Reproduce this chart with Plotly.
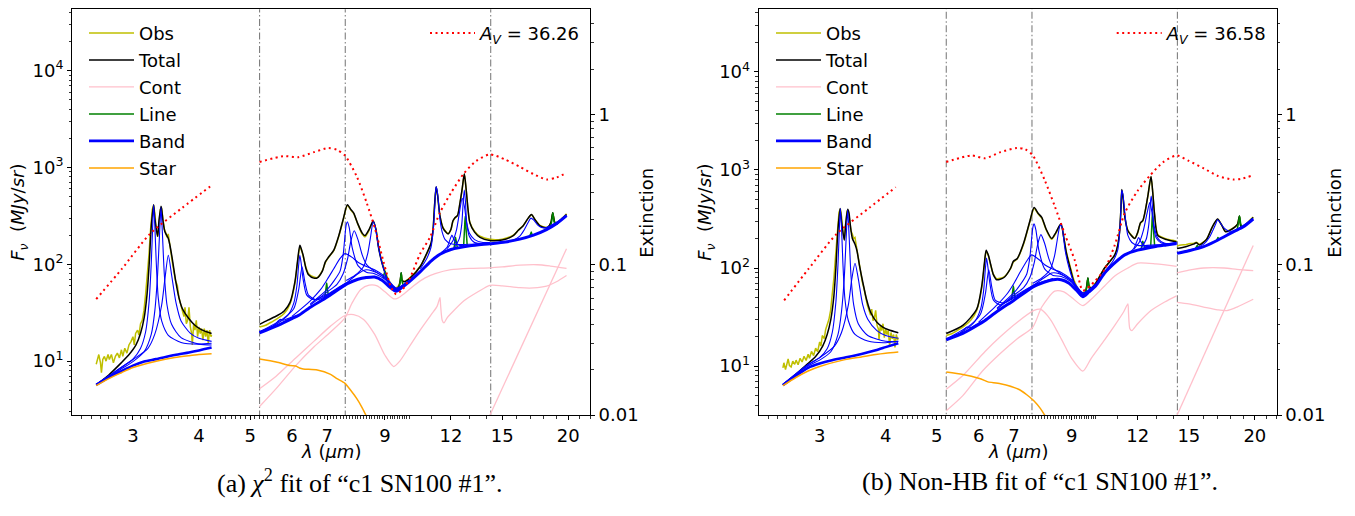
import math
import plotly.graph_objects as go

FONT = "DejaVu Sans"

# ---------------- axis ticks / labels ----------------
X_TICKS = [3, 4, 5, 6, 7, 9, 12, 15, 20]
X_MINOR = [2.4, 2.5, 2.6, 2.7, 2.8, 2.9, 3.1, 3.2, 3.3, 3.4, 3.5, 3.6, 3.7, 3.8, 3.9,
           4.1, 4.2, 4.3, 4.4, 4.5, 4.6, 4.7, 4.8, 4.9, 5.1, 5.2, 5.3, 5.4, 5.5, 5.6, 5.7,
           5.8, 5.9, 6.1, 6.2, 6.3, 6.4, 6.5, 6.6, 6.7, 6.8, 6.9, 7.1, 7.2, 7.3, 7.4, 7.5,
           7.6, 7.7, 7.8, 7.9, 8, 8.1, 8.2, 8.3, 8.4, 8.5, 8.6, 8.7, 8.8, 8.9, 9.1, 9.2, 9.3,
           9.4, 9.5, 9.6, 9.7, 9.8, 9.9, 10, 11, 13, 14, 16, 17, 18, 19, 21, 22]
Y_TICKS = [10, 100, 1000, 10000]
Y_TICKTEXT = ["10<sup>1</sup>", "10<sup>2</sup>", "10<sup>3</sup>", "10<sup>4</sup>"]
Y_MINOR = [3, 4, 5, 6, 7, 8, 9, 20, 30, 40, 50, 60, 70, 80, 90, 200, 300, 400, 500, 600,
           700, 800, 900, 2000, 3000, 4000, 5000, 6000, 7000, 8000, 9000, 20000, 30000, 40000]
EXT_TICKS = [0.01, 0.1, 1]
EXT_TICKTEXT = ["0.01", "0.1", "1"]
EXT_MINOR = [0.02, 0.03, 0.04, 0.05, 0.06, 0.07, 0.08, 0.09, 0.2, 0.3, 0.4, 0.5, 0.6,
             0.7, 0.8, 0.9, 2, 3, 4]
MODULE_EDGES = [5.21, 7.57, 14.27]
LEGEND_NAMES = ["Obs", "Total", "Cont", "Line", "Band", "Star"]
AV = [36.26, 36.58]
CAPTIONS = ["(a) <i>χ</i><sup>2</sup> fit of “c1 SN100 #1”.",
            "(b) Non-HB fit of “c1 SN100 #1”."]

# ================= panel (a) =================
A_AK_OBS = [(2.556, 9.3), (2.567, 10.4), (2.585, 11.7), (2.604, 9.6), (2.615, 7.6), (2.630, 10.4),
            (2.649, 11.2), (2.668, 10.0), (2.691, 11.7), (2.707, 10.4), (2.731, 11.7), (2.755, 9.6),
            (2.779, 11.2), (2.803, 12.1), (2.828, 10.8), (2.853, 13.1), (2.870, 11.2), (2.895, 13.6),
            (2.922, 12.1), (2.948, 14.7), (2.974, 15.9), (3.000, 17.9), (3.017, 14.7), (3.035, 19.3),
            (3.061, 20.9), (3.079, 18.6), (3.101, 24.4), (3.124, 26.4), (3.147, 33.2), (3.170, 49),
            (3.193, 72), (3.216, 124), (3.240, 231), (3.264, 368), (3.283, 405), (3.302, 330),
            (3.322, 222), (3.341, 192), (3.360, 260), (3.380, 368), (3.399, 382), (3.419, 291),
            (3.439, 231), (3.459, 214), (3.479, 190), (3.499, 206), (3.520, 157), (3.540, 134),
            (3.561, 106), (3.587, 84), (3.613, 67), (3.640, 61), (3.667, 45), (3.693, 38.8),
            (3.720, 33.2), (3.747, 28.8), (3.764, 35.9), (3.786, 24.4), (3.808, 26.4), (3.830, 35.9),
            (3.853, 22.6), (3.875, 19.3), (3.886, 14.7), (3.909, 24.4), (3.931, 20.9), (3.954, 26.4),
            (3.977, 17.9), (4.000, 22.6), (4.023, 19.3), (4.046, 21.7), (4.070, 16.5), (4.094, 21.7),
            (4.118, 17.9), (4.142, 20.9), (4.166, 15.3), (4.190, 20.9), (4.215, 17.9), (4.227, 18.6)]
A_AK_TOT = [(2.556, 5.7), (2.70, 7.2), (2.85, 9.6), (2.95, 11.7), (3.04, 14.7), (3.10, 19.3),
            (3.15, 28), (3.19, 49), (3.22, 100), (3.25, 250), (3.283, 413), (3.30, 300),
            (3.341, 195), (3.36, 280), (3.39, 397), (3.40, 370), (3.42, 280), (3.45, 215),
            (3.50, 185), (3.52, 163), (3.56, 115), (3.61, 70), (3.667, 45), (3.72, 35),
            (3.83, 27.4), (3.93, 23.5), (4.05, 21), (4.227, 19.3)]
A_AK_BASE = [(2.556, 5.68), (2.70, 6.8), (2.853, 7.9), (3.0, 9.0), (3.15, 9.9), (3.32, 10.5),
             (3.6, 11.6), (3.83, 12.3), (4.0, 12.9), (4.227, 13.8)]
A_AK_STAR = [(2.556, 5.6), (2.70, 6.6), (2.853, 7.6), (3.0, 8.6), (3.32, 10.0), (3.6, 10.9),
             (3.83, 11.4), (4.0, 11.7), (4.227, 11.9)]
A_AK_BANDS = [
    [(2.556, 5.75), (2.85, 8.6), (3.0, 10.5), (3.1, 13.5), (3.17, 20), (3.22, 42), (3.25, 105),
     (3.27, 255), (3.283, 410), (3.30, 255), (3.32, 108), (3.35, 45), (3.40, 26), (3.5, 18.5),
     (3.7, 15.6), (4.0, 15.0), (4.227, 15.3)],
    [(2.556, 5.72), (2.85, 8.3), (3.0, 9.9), (3.15, 12.5), (3.25, 19), (3.30, 33), (3.34, 78),
     (3.37, 215), (3.39, 385), (3.41, 215), (3.44, 78), (3.48, 38), (3.55, 24), (3.7, 17.5),
     (4.0, 15.0), (4.227, 14.7)],
    [(2.556, 5.75), (2.85, 8.6), (3.0, 10.4), (3.2, 13.5), (3.3, 19), (3.4, 38), (3.45, 72),
     (3.50, 124), (3.55, 78), (3.62, 40), (3.7, 26), (3.85, 19.5), (4.0, 17.2), (4.227, 16.0)],
]
A_AK_EXT = [(2.556, 0.059), (2.86, 0.094), (3.23, 0.160), (3.72, 0.239), (4.20, 0.331)]

A_SP_OBS = [(5.21, 22.5), (5.35, 23.5), (5.5, 25.5), (5.63, 27.5), (5.8, 31), (5.95, 39), (6.08, 64),
            (6.15, 105), (6.21, 150), (6.26, 138), (6.30, 122), (6.38, 92), (6.45, 80), (6.6, 74),
            (6.70, 73), (6.85, 86), (6.94, 104), (7.04, 118), (7.2, 138), (7.36, 195), (7.5, 285),
            (7.64, 405), (7.75, 365), (7.85, 335), (8.0, 258), (8.15, 205), (8.25, 192), (8.4, 225),
            (8.55, 276), (8.65, 232), (8.75, 155), (8.87, 110), (9.0, 86), (9.13, 70), (9.3, 60),
            (9.40, 57), (9.55, 60), (9.62, 68), (9.66, 80), (9.7, 68), (9.8, 67), (10.04, 73),
            (10.5, 96), (10.8, 128), (11.0, 162), (11.1, 225), (11.17, 395), (11.25, 625),
            (11.32, 515), (11.44, 312), (11.6, 238), (11.85, 208), (12.0, 228), (12.1, 275),
            (12.21, 300), (12.35, 318), (12.48, 425), (12.6, 590), (12.72, 850), (12.82, 595),
            (12.92, 378), (13.03, 272), (13.3, 220), (13.62, 195), (14.22, 181), (15.0, 182),
            (15.75, 200), (16.1, 226), (16.43, 250), (16.8, 298), (17.05, 325), (17.3, 292),
            (17.69, 252), (18.0, 243), (18.3, 242), (18.55, 268), (18.7, 336), (18.85, 276),
            (19.0, 262), (19.4, 292), (19.86, 332)]
A_SP_TOT = [(5.21, 24.0), (5.4, 26.5), (5.63, 29.6), (5.8, 33), (5.95, 40.4), (6.08, 66.7),
            (6.15, 110), (6.21, 157), (6.26, 140), (6.30, 124), (6.38, 90), (6.45, 78), (6.6, 72),
            (6.70, 72.3), (6.85, 85), (6.94, 106), (7.04, 119), (7.2, 140), (7.36, 198), (7.5, 290),
            (7.64, 413), (7.75, 370), (7.85, 340), (8.0, 260), (8.15, 210), (8.25, 198), (8.4, 230),
            (8.55, 280), (8.65, 230), (8.75, 150), (8.87, 106), (9.0, 82), (9.13, 66.7), (9.3, 57),
            (9.40, 55), (9.55, 58), (9.62, 68), (9.66, 82), (9.7, 68), (9.8, 66), (10.04, 72),
            (10.5, 95), (10.8, 130), (11.0, 165), (11.1, 230), (11.17, 400), (11.25, 632),
            (11.32, 520), (11.44, 315), (11.6, 235), (11.85, 206), (12.0, 230), (12.1, 280),
            (12.21, 303), (12.35, 320), (12.48, 429), (12.6, 600), (12.72, 861), (12.82, 600),
            (12.92, 380), (13.03, 269), (13.3, 215), (13.62, 190), (14.22, 176), (15.0, 178),
            (15.75, 198), (16.1, 225), (16.43, 249), (16.8, 300), (17.05, 327), (17.3, 290),
            (17.69, 249), (18.0, 240), (18.3, 240), (18.55, 270), (18.7, 340), (18.85, 275),
            (19.0, 259), (19.4, 290), (19.86, 327)]
A_SP_BASE = [(5.21, 19.6), (5.6, 23.0), (6.0, 27.5), (6.17, 29.6), (6.5, 36), (7.0, 46), (7.64, 63),
             (8.0, 70), (8.3, 73), (8.6, 74), (8.9, 68), (9.2, 58), (9.45, 52.8), (9.7, 58),
             (10.0, 66), (10.5, 84), (11.0, 108), (11.44, 127), (12.0, 142), (13.03, 155),
             (14.22, 163), (15.2, 170), (16.2, 182), (17.2, 200), (18.2, 228), (19.0, 262),
             (19.86, 318)]
A_SP_BANDS = [
    [(5.21, 19.9), (5.5, 22.5), (5.65, 26), (5.7, 27), (5.78, 26.5), (6.0, 28.5), (6.17, 30)],
    [(5.21, 20.2), (5.6, 24), (5.9, 30), (6.05, 40), (6.13, 60), (6.18, 100), (6.21, 124),
     (6.25, 100), (6.3, 70), (6.4, 48), (6.6, 43), (7.0, 49), (7.6, 64), (8.3, 74)],
    [(5.21, 20), (5.8, 28), (6.05, 35), (6.18, 55), (6.27, 94), (6.35, 65), (6.45, 48), (6.7, 43),
     (7.2, 53), (7.6, 64)],
    [(6.0, 29), (6.5, 42), (6.8, 55), (7.0, 70), (7.2, 90), (7.4, 115), (7.56, 129), (7.8, 118),
     (8.0, 105), (8.3, 95), (8.6, 88), (9.0, 75), (9.45, 57), (10.0, 68)],
    [(6.5, 39), (7.0, 55), (7.2, 67), (7.4, 85), (7.5, 125), (7.6, 255), (7.64, 275), (7.7, 240),
     (7.8, 150), (8.0, 97), (8.3, 83), (8.6, 80), (9.0, 70), (9.45, 55), (10.0, 68)],
    [(6.5, 38), (7.0, 52), (7.3, 62), (7.5, 80), (7.65, 115), (7.75, 170), (7.87, 222), (8.0, 180),
     (8.15, 125), (8.3, 100), (8.6, 85), (9.0, 73), (9.45, 56), (10.0, 68)],
    [(7.6, 64), (8.0, 80), (8.25, 87.5), (8.5, 86), (8.9, 76), (9.2, 62), (9.45, 54)],
    [(7.6, 68), (7.9, 77), (8.2, 95), (8.35, 130), (8.45, 190), (8.55, 275), (8.62, 250),
     (8.75, 150), (8.9, 100), (9.1, 70), (9.3, 58), (9.45, 54), (10.0, 67)],
    [(10.5, 90), (10.8, 115), (11.0, 150), (11.1, 215), (11.17, 350), (11.22, 560), (11.25, 632),
     (11.3, 580), (11.37, 420), (11.44, 290), (11.55, 215), (11.7, 180), (12.0, 163), (12.5, 160),
     (13.0, 161), (14.22, 166)],
    [(11.5, 132), (11.8, 150), (11.95, 180), (12.05, 200), (12.15, 182), (12.35, 160), (12.7, 155),
     (13.2, 157)],
    [(11.8, 145), (12.1, 175), (12.3, 230), (12.45, 340), (12.6, 480), (12.72, 400), (12.85, 270),
     (13.0, 210), (13.3, 180), (13.8, 168), (14.22, 168)],
    [(12.2, 150), (12.45, 185), (12.58, 260), (12.66, 450), (12.72, 586), (12.78, 450), (12.86, 260),
     (13.0, 195), (13.3, 168), (14.22, 165)],
    [(13.0, 156), (14.22, 164), (15.0, 170), (15.75, 178), (16.2, 195), (16.5, 225), (16.8, 270),
     (17.0, 300), (17.2, 288), (17.5, 255), (17.8, 240), (18.2, 240), (18.8, 263), (19.4, 290),
     (19.86, 322)],
]
A_SP_LINES = [
    [(6.92, 45), (6.96, 56), (6.98, 64), (7.00, 56), (7.04, 46)],
    [(8.92, 72), (8.97, 80), (9.0, 85), (9.03, 79), (9.08, 68)],
    [(9.56, 56), (9.62, 66), (9.66, 82), (9.7, 66), (9.76, 60)],
    [(12.16, 146), (12.21, 172), (12.24, 190), (12.28, 172), (12.34, 148)],
    [(12.68, 152), (12.73, 230), (12.77, 315), (12.82, 230), (12.88, 156)],
    [(16.9, 194), (16.98, 205), (17.03, 215), (17.08, 205), (17.16, 198)],
    [(18.5, 238), (18.62, 280), (18.71, 340), (18.8, 280), (18.92, 250)],
]
A_SP_CONT = [
    [(5.21, 3.4), (5.6, 5.2), (6.1, 9.0), (6.6, 14), (7.1, 20), (7.56, 28), (7.8, 40), (8.1, 55),
     (8.4, 61), (8.7, 60), (9.0, 52), (9.35, 44), (9.5, 44.5), (9.8, 50), (10.2, 60), (10.7, 72),
     (11.2, 80), (12.0, 88), (13.0, 91), (14.22, 92), (15.0, 94), (16.2, 98), (17.5, 99),
     (18.5, 96), (19.86, 91)],
    [(5.21, 5.2), (5.6, 7.0), (6.1, 10.8), (6.6, 16), (7.1, 23), (7.56, 29.6), (7.85, 30.3),
     (8.2, 27), (8.6, 19), (9.0, 11.5), (9.35, 8.8), (9.6, 10), (10.0, 14), (10.5, 21), (11.0, 30),
     (11.3, 37), (11.44, 45.4), (11.47, 38), (11.55, 26.5), (11.64, 24.8), (11.8, 28), (12.0, 31),
     (12.7, 42), (13.5, 52), (14.22, 60.7), (15.0, 60), (16.2, 57.3), (17.2, 57), (18.2, 59.5),
     (19.0, 66), (19.86, 76.6)],
    [(14.1, 2.5), (19.86, 145)],
]
A_SP_STAR = [(5.21, 10.5), (5.6, 9.8), (5.95, 9.0), (6.1, 8.9), (6.2, 8.5), (6.3, 8.3), (6.7, 8.1),
             (7.1, 7.3), (7.3, 6.6), (7.56, 5.9), (7.75, 5.0), (7.96, 4.1), (8.15, 3.3), (8.3, 2.7)]
A_SP_EXT = [(5.21, 0.482), (5.78, 0.527), (6.17, 0.519), (6.6, 0.56), (7.03, 0.597), (7.3, 0.58),
            (7.56, 0.532), (7.96, 0.385), (8.31, 0.258), (8.62, 0.173), (8.94, 0.105),
            (9.25, 0.0703), (9.45, 0.0637), (9.7, 0.068), (10.04, 0.0817), (10.49, 0.118),
            (10.95, 0.152), (11.44, 0.222), (12.0, 0.30), (12.7, 0.405), (13.4, 0.49),
            (14.22, 0.541), (15.2, 0.50), (16.21, 0.447), (17.2, 0.40), (18.2, 0.369), (19.0, 0.38),
            (19.86, 0.408)]

# ================= panel (b) =================
B_AK_OBS = [(2.556, 9.6), (2.567, 10.8), (2.585, 9.2), (2.604, 10.5), (2.615, 11.8), (2.630, 10.1),
            (2.649, 9.8), (2.668, 11.2), (2.691, 10.4), (2.707, 11.5), (2.731, 10.3), (2.755, 12.0),
            (2.779, 11.0), (2.803, 12.6), (2.828, 11.4), (2.853, 13.2), (2.870, 12.0), (2.895, 14.1),
            (2.922, 12.8), (2.948, 15.2), (2.974, 14.0), (3.000, 17.6), (3.017, 16.0), (3.035, 20.5),
            (3.061, 19.0), (3.079, 23.5), (3.101, 26.0), (3.124, 30.0), (3.147, 37), (3.170, 52),
            (3.193, 80), (3.216, 135), (3.240, 240), (3.264, 370), (3.283, 400), (3.302, 330),
            (3.322, 225), (3.341, 195), (3.360, 270), (3.380, 380), (3.399, 390), (3.419, 300),
            (3.439, 240), (3.459, 222), (3.479, 200), (3.499, 205), (3.520, 165), (3.540, 140),
            (3.561, 112), (3.587, 92), (3.613, 72), (3.640, 62), (3.667, 50), (3.693, 42),
            (3.720, 37), (3.747, 33), (3.764, 38), (3.786, 29), (3.808, 31), (3.830, 37),
            (3.853, 26), (3.875, 24), (3.886, 18.5), (3.909, 26), (3.931, 23), (3.954, 27),
            (3.977, 19.5), (4.000, 24), (4.023, 21), (4.046, 23), (4.070, 16), (4.094, 22),
            (4.118, 19), (4.142, 21), (4.166, 15.5), (4.190, 21), (4.215, 18.5), (4.227, 19.5)]
B_AK_TOT = [(2.556, 6.4), (2.70, 8.2), (2.85, 10.6), (2.95, 12.6), (3.04, 16), (3.10, 21),
            (3.15, 30), (3.19, 50), (3.22, 100), (3.25, 250), (3.28, 404), (3.30, 300),
            (3.34, 192), (3.36, 280), (3.39, 398), (3.41, 360), (3.43, 270), (3.46, 200),
            (3.50, 175), (3.53, 150), (3.57, 105), (3.62, 72), (3.68, 48), (3.75, 35),
            (3.85, 28), (3.95, 25), (4.05, 23.5), (4.227, 21.9)]
B_AK_BASE = [(2.556, 6.4), (2.70, 7.9), (2.853, 9.6), (3.0, 10.6), (3.15, 11.4), (3.32, 12.1),
             (3.6, 13.3), (3.83, 14.5), (4.0, 15.6), (4.227, 17.1)]
B_AK_STAR = [(2.556, 6.3), (2.70, 7.6), (2.853, 8.9), (3.0, 9.9), (3.32, 11.5), (3.6, 12.4),
             (3.83, 13.1), (4.0, 13.5), (4.227, 13.9)]
B_AK_BANDS = [
    [(2.556, 6.5), (2.85, 10.3), (3.0, 12.2), (3.1, 15), (3.17, 22), (3.22, 45), (3.25, 110),
     (3.27, 260), (3.283, 404), (3.30, 260), (3.32, 112), (3.35, 48), (3.40, 29), (3.5, 21),
     (3.7, 18), (4.0, 17.3), (4.227, 18.0)],
    [(2.556, 6.45), (2.85, 10.0), (3.0, 11.5), (3.15, 14), (3.25, 21), (3.30, 36), (3.34, 80),
     (3.37, 220), (3.39, 390), (3.41, 220), (3.44, 82), (3.48, 42), (3.55, 27), (3.7, 20.5),
     (4.0, 17.9), (4.227, 17.8)],
    [(2.556, 6.5), (2.85, 10.3), (3.0, 12.2), (3.2, 16), (3.3, 22), (3.4, 42), (3.45, 76),
     (3.50, 112), (3.55, 78), (3.62, 42), (3.7, 30), (3.85, 23), (4.0, 20.5), (4.227, 19.2)],
]
B_AK_EXT = [(2.57, 0.058), (2.86, 0.094), (3.23, 0.160), (3.72, 0.238), (4.18, 0.327)]

B_SP_OBS = [(5.21, 20.5), (5.35, 21.5), (5.5, 23.5), (5.63, 25.5), (5.8, 29.5), (5.95, 37), (6.08, 62),
            (6.15, 105), (6.2, 148), (6.26, 133), (6.32, 108), (6.4, 86), (6.49, 78), (6.7, 81),
            (6.9, 99), (6.98, 115), (7.1, 124), (7.3, 176), (7.5, 295), (7.64, 405), (7.78, 355),
            (7.90, 322), (8.05, 246), (8.25, 196), (8.4, 226), (8.59, 278), (8.7, 202), (8.8, 144),
            (8.94, 104), (9.1, 74), (9.3, 59), (9.4, 56), (9.55, 58), (9.61, 66), (9.66, 78),
            (9.71, 66), (9.8, 63), (10.0, 71), (10.39, 100), (10.86, 135), (11.0, 168), (11.1, 245),
            (11.16, 415), (11.2, 625), (11.27, 495), (11.35, 328), (11.5, 242), (11.85, 202),
            (12.0, 228), (12.15, 286), (12.27, 300), (12.4, 376), (12.55, 545), (12.72, 848),
            (12.82, 575), (12.92, 352), (13.1, 220), (13.6, 198), (14.1, 190), (14.22, 188), None,
            (14.25, 168), (14.5, 172), (14.8, 173), (15.0, 177), (15.3, 178), (15.5, 183), (15.7, 175),
            (16.2, 197), (16.6, 258), (17.0, 314), (17.3, 276), (17.6, 237), (18.0, 247),
            (18.35, 264), (18.55, 280), (18.7, 336), (18.82, 268), (19.0, 263), (19.4, 292),
            (19.86, 330)]
B_SP_TOT = [(5.21, 21.5), (5.6, 26), (5.95, 38), (6.08, 65), (6.15, 110), (6.2, 152), (6.26, 135),
            (6.32, 110), (6.4, 85), (6.49, 76), (6.7, 80), (6.9, 100), (6.98, 117), (7.1, 125),
            (7.3, 180), (7.5, 300), (7.64, 413), (7.78, 360), (7.90, 328), (8.05, 250), (8.25, 200),
            (8.4, 230), (8.59, 282), (8.7, 200), (8.8, 140), (8.94, 100), (9.1, 70), (9.3, 55),
            (9.4, 52), (9.55, 56), (9.61, 65), (9.66, 79), (9.71, 65), (9.8, 62), (10.0, 70),
            (10.39, 100), (10.86, 136), (11.0, 170), (11.1, 250), (11.16, 420), (11.2, 631),
            (11.27, 500), (11.35, 330), (11.5, 240), (11.85, 200), (12.0, 230), (12.15, 290),
            (12.27, 304), (12.4, 380), (12.55, 550), (12.72, 857), (12.82, 580), (12.92, 350),
            (13.1, 215), (13.6, 195), (14.1, 186), (14.22, 185), None, (14.25, 158), (14.8, 165),
            (15.3, 175), (15.5, 181), (15.7, 172), (16.2, 195), (16.6, 260), (17.0, 316),
            (17.3, 275), (17.6, 234), (18.0, 245), (18.35, 263), (18.55, 280), (18.7, 340),
            (18.82, 265), (19.0, 262), (19.4, 290), (19.86, 328)]
B_SP_BASE = [(5.21, 18.5), (5.6, 21.5), (6.0, 26.5), (6.17, 29.2), (6.5, 36), (7.0, 47), (7.64, 65),
             (8.0, 72), (8.3, 76), (8.6, 76), (8.9, 70), (9.2, 59), (9.45, 51), (9.7, 57),
             (10.0, 66), (10.39, 89), (10.9, 115), (11.34, 136), (12.0, 152), (12.9, 165),
             (13.6, 172), (14.22, 178), None, (14.25, 141), (15.0, 150), (16.0, 165), (17.0, 192),
             (18.2, 234), (19.0, 262), (19.86, 316)]
B_SP_BANDS = [
    [(5.21, 18.7), (5.5, 21), (5.65, 24), (5.7, 25), (5.78, 24.5), (6.0, 27.5), (6.17, 29.5)],
    [(5.21, 19), (5.6, 22.5), (5.9, 28.5), (6.05, 38), (6.13, 58), (6.18, 100), (6.21, 126),
     (6.25, 100), (6.3, 70), (6.4, 47), (6.6, 42), (7.0, 51), (7.64, 67), (8.3, 78)],
    [(5.21, 18.9), (5.8, 26.5), (6.05, 34), (6.18, 55), (6.27, 96), (6.35, 65), (6.45, 47),
     (6.7, 44), (7.2, 55), (7.64, 67)],
    [(6.0, 28), (6.5, 42), (6.8, 55), (7.0, 70), (7.2, 92), (7.4, 118), (7.56, 136), (7.8, 122),
     (8.0, 108), (8.3, 97), (8.6, 90), (9.0, 76), (9.45, 56), (10.0, 69)],
    [(6.5, 39), (7.0, 56), (7.2, 68), (7.4, 87), (7.5, 128), (7.6, 260), (7.64, 282), (7.7, 245),
     (7.8, 152), (8.0, 98), (8.3, 84), (8.6, 82), (9.0, 72), (9.45, 54), (10.0, 68)],
    [(6.5, 38), (7.0, 53), (7.3, 63), (7.5, 80), (7.65, 115), (7.75, 168), (7.87, 219), (8.0, 178),
     (8.15, 124), (8.3, 100), (8.6, 87), (9.0, 74), (9.45, 55), (10.0, 68)],
    [(7.6, 66), (8.0, 80), (8.25, 89), (8.5, 88), (8.9, 77), (9.2, 62), (9.45, 53)],
    [(7.6, 70), (7.9, 79), (8.2, 97), (8.35, 132), (8.45, 192), (8.55, 270), (8.59, 275),
     (8.65, 245), (8.75, 150), (8.9, 100), (9.1, 70), (9.3, 57), (9.45, 53), (10.0, 67)],
    [(10.39, 92), (10.8, 120), (11.0, 152), (11.08, 210), (11.14, 340), (11.18, 540), (11.2, 620),
     (11.25, 570), (11.32, 420), (11.4, 290), (11.5, 215), (11.7, 182), (12.0, 170), (12.5, 170),
     (13.0, 172), (14.22, 182)],
    [(11.5, 140), (11.8, 158), (11.95, 185), (12.05, 205), (12.15, 188), (12.35, 168), (12.7, 166),
     (13.2, 168)],
    [(11.8, 155), (12.1, 185), (12.3, 240), (12.5, 360), (12.65, 464), (12.75, 390), (12.9, 265),
     (13.05, 210), (13.3, 185), (13.8, 176), (14.22, 180)],
    [(12.2, 162), (12.45, 195), (12.6, 280), (12.68, 450), (12.73, 541), (12.79, 440), (12.87, 265),
     (13.0, 205), (13.3, 180), (14.22, 179)],
    [(14.25, 142), (15.0, 152), (15.5, 160), (16.0, 175), (16.4, 205), (16.7, 250), (16.9, 290),
     (17.0, 311), (17.15, 295), (17.5, 255), (17.8, 240), (18.2, 238), (18.8, 262), (19.4, 290),
     (19.86, 318)],
]
B_SP_LINES = [
    [(6.92, 47), (6.96, 58), (6.98, 65.6), (7.0, 58), (7.04, 48)],
    [(9.56, 55), (9.62, 65), (9.66, 79), (9.7, 65), (9.76, 58)],
    [(12.18, 155), (12.24, 175), (12.27, 187), (12.31, 175), (12.38, 158)],
    [(12.7, 165), (12.76, 260), (12.8, 368), (12.85, 260), (12.92, 170)],
    [(15.45, 158), (15.52, 166), (15.56, 170), (15.6, 166), (15.68, 160)],
    [(16.92, 190), (16.98, 198), (17.03, 205), (17.08, 198), (17.14, 194)],
    [(18.5, 242), (18.62, 285), (18.71, 340), (18.8, 285), (18.92, 255)],
]
B_SP_CONT = [
    [(5.21, 3.5), (5.6, 5.0), (6.1, 8.9), (6.6, 13.5), (7.1, 19), (7.6, 25), (7.9, 40), (8.36, 58),
     (8.7, 57), (9.0, 50), (9.45, 41.4), (9.8, 48), (10.39, 65.6), (10.86, 83), (11.5, 100),
     (12.0, 112), (13.0, 110), (14.22, 104), None, (14.25, 89), (15.0, 95), (16.0, 100),
     (17.5, 100), (18.5, 97), (19.86, 94)],
    [(5.21, 5.8), (5.6, 8.0), (6.17, 14.1), (6.6, 20), (7.1, 28), (7.64, 36.9), (7.85, 38),
     (8.2, 30), (8.62, 18.5), (9.0, 12), (9.45, 8.9), (9.8, 12), (10.39, 18.5), (10.86, 26),
     (11.3, 36), (11.5, 43), (11.53, 35), (11.6, 24), (11.7, 23), (12.0, 27), (12.72, 36.8),
     (13.5, 45), (14.22, 52), None, (14.25, 44.6), (15.0, 43), (16.0, 40), (17.0, 37.5),
     (17.7, 36.8), (18.5, 40), (19.86, 48)],
    [(14.15, 2.9), (19.86, 170)],
]
B_SP_STAR = [(5.21, 8.7), (5.6, 8.2), (6.0, 7.5), (6.17, 7.1), (6.25, 6.9), (6.6, 6.6), (7.14, 5.8),
             (7.4, 5.1), (7.64, 4.4), (7.85, 3.7), (8.0, 3.16), (8.1, 2.8)]
B_SP_EXT = [(5.21, 0.482), (5.82, 0.532), (6.17, 0.51), (6.6, 0.56), (7.09, 0.597), (7.35, 0.585),
            (7.6, 0.532), (8.0, 0.366), (8.36, 0.245), (8.75, 0.157), (9.13, 0.106), (9.45, 0.0675),
            (9.95, 0.0775), (10.39, 0.093), (10.86, 0.135), (11.34, 0.22), (12.0, 0.31),
            (12.65, 0.39), (13.4, 0.48), (14.22, 0.532), (15.0, 0.49), (16.0, 0.437), (17.0, 0.39),
            (18.2, 0.368), (19.0, 0.375), (19.7, 0.39)]

# ---------------- styles / page geometry ----------------
C_OBS, C_TOT, C_CONT, C_LINE, C_BAND, C_STAR, C_EXT = (
    "#bfbf00", "black", "#ffc0cb", "#008000", "#0000ff", "#ffa500", "#ff0000")
W, H = 1355, 516


def px(xp):   # target-screenshot x pixel -> paper
    return xp / W


def py(yp):   # target-screenshot y pixel -> paper
    return 1 - yp / H


fig = go.Figure()


def split(pairs):
    xs, ys = [], []
    for p in pairs:
        if p is None:
            xs.append(None)
            ys.append(None)
        else:
            xs.append(p[0])
            ys.append(p[1])
    return xs, ys


def add(pairs, color, width, xa, ya, name=None, legend=None, rank=None, dash=None,
        shape="spline", smooth=0.7, group=None):
    xs, ys = split(pairs)
    ln = dict(color=color, width=width, shape=shape)
    if shape == "spline":
        ln["smoothing"] = smooth
    if dash:
        ln["dash"] = dash
    fig.add_trace(go.Scatter(
        x=xs, y=ys, mode="lines", xaxis=xa, yaxis=ya, line=ln,
        name=name if name else "", showlegend=name is not None,
        legend=legend, legendrank=rank if rank else 1000, legendgroup=group,
        hoverinfo="skip", connectgaps=False))


PANELS = [
    dict(xa="x", ya="y", ea="y2", lg="legend", lg2="legend2", av=AV[0], tag="a",
         ak=(A_AK_OBS, A_AK_TOT, A_AK_BASE, A_AK_STAR, A_AK_BANDS, A_AK_EXT),
         sp=(A_SP_OBS, A_SP_TOT, A_SP_BASE, A_SP_STAR, A_SP_BANDS, A_SP_EXT, A_SP_LINES, A_SP_CONT)),
    dict(xa="x2", ya="y3", ea="y4", lg="legend3", lg2="legend4", av=AV[1], tag="b",
         ak=(B_AK_OBS, B_AK_TOT, B_AK_BASE, B_AK_STAR, B_AK_BANDS, B_AK_EXT),
         sp=(B_SP_OBS, B_SP_TOT, B_SP_BASE, B_SP_STAR, B_SP_BANDS, B_SP_EXT, B_SP_LINES, B_SP_CONT)),
]

for P in PANELS:
    xa, ya, ea, lg, t = P["xa"], P["ya"], P["ea"], P["lg"], P["tag"]
    ak_obs, ak_tot, ak_base, ak_star, ak_bands, ak_ext = P["ak"]
    sp_obs, sp_tot, sp_base, sp_star, sp_bands, sp_ext, sp_lines, sp_cont = P["sp"]
    for v in MODULE_EDGES:
        add([(v, 1.0), (v, 1.0e6)], "#7f7f7f", 1.1, xa, ya, dash="7px,2.5px,1.5px,2.5px",
            shape="linear", group=t + "edge")
    g = [t + n for n in LEGEND_NAMES]
    add(ak_obs, C_OBS, 1.5, xa, ya, name=LEGEND_NAMES[0], legend=lg, rank=1, shape="linear",
        group=g[0])
    add(sp_obs, C_OBS, 1.5, xa, ya, group=g[0])
    add(ak_tot, C_TOT, 1.5, xa, ya, name=LEGEND_NAMES[1], legend=lg, rank=2, group=g[1])
    add(sp_tot, C_TOT, 1.5, xa, ya, group=g[1])
    for i, c in enumerate(sp_cont):
        add(c, C_CONT, 1.3, xa, ya, name=LEGEND_NAMES[2] if i == 0 else None, legend=lg, rank=3,
            group=g[2])
    for i, c in enumerate(sp_lines):
        add(c, C_LINE, 1.5, xa, ya, name=LEGEND_NAMES[3] if i == 0 else None, legend=lg, rank=4,
            group=g[3])
    add(ak_base, C_BAND, 2.6, xa, ya, name=LEGEND_NAMES[4], legend=lg, rank=5, group=g[4])
    add(sp_base, C_BAND, 3.0, xa, ya, group=g[4])
    for b in ak_bands + sp_bands:
        add(b, C_BAND, 1.1, xa, ya, group=g[4])
    add(ak_star, C_STAR, 1.5, xa, ya, name=LEGEND_NAMES[5], legend=lg, rank=6, group=g[5])
    add(sp_star, C_STAR, 1.5, xa, ya, group=g[5])
    av_name = "<i>A</i><sub><i>V</i></sub> = %.2f" % P["av"]
    add(ak_ext, C_EXT, 2, xa, ea, name=av_name, legend=P["lg2"], rank=1, dash="2px,3.5px",
        group=t + "ext")
    add(sp_ext, C_EXT, 2, xa, ea, dash="2px,3.5px", group=t + "ext")

# ---------------- axes ----------------
tickfont = dict(family=FONT, size=18, color="black")
common = dict(showline=True, linecolor="black", linewidth=1, ticks="outside", ticklen=4,
              tickwidth=1, tickcolor="black", showgrid=False, zeroline=False, tickfont=tickfont)
ydom = [py(423.3), py(9.5)]
xdoms = [[px(72), px(590)], [px(758.7), px(1276.7)]]
xrange_ = [math.log10(2.30), math.log10(22.0)]
minor_x = dict(tickmode="array", tickvals=X_MINOR, ticks="outside", ticklen=2.5, tickwidth=0.8,
               tickcolor="black")
minor_y = dict(tickmode="array", tickvals=Y_MINOR, ticks="outside", ticklen=2.5, tickwidth=0.8,
               tickcolor="black")
minor_e = dict(tickmode="array", tickvals=EXT_MINOR, ticks="outside", ticklen=2.5, tickwidth=0.8,
               tickcolor="black")

layout_axes = {}
for i, (xn, yn, en, yr) in enumerate([("xaxis", "yaxis", "yaxis2", [0.443, 4.633]),
                                      ("xaxis2", "yaxis3", "yaxis4", [0.5, 4.638])]):
    xid = "x" if i == 0 else "x2"
    yid = "y" if i == 0 else "y3"
    layout_axes[xn] = dict(common, type="log", range=xrange_, domain=xdoms[i], anchor=yid,
                           tickmode="array", tickvals=X_TICKS, ticktext=[str(v) for v in X_TICKS],
                           mirror=True, minor=minor_x)
    layout_axes[yn] = dict(common, type="log", range=yr, domain=ydom, anchor=xid,
                           tickmode="array", tickvals=Y_TICKS, ticktext=Y_TICKTEXT, minor=minor_y)
    layout_axes[en] = dict(common, type="log", range=[-2, 0.698], overlaying=yid, side="right",
                           anchor=xid, tickmode="array", tickvals=EXT_TICKS, ticktext=EXT_TICKTEXT,
                           minor=minor_e)

legfont = dict(family=FONT, size=18, color="black")


def leg(xp, yp):
    return dict(x=px(xp), y=py(yp), xanchor="left", yanchor="top", font=legfont,
                bgcolor="rgba(0,0,0,0)", tracegroupgap=0.6, itemwidth=45,
                traceorder="grouped")


legends = dict(legend=leg(84, 15), legend2=leg(425, 15),
               legend3=leg(771, 15), legend4=leg(1111.7, 15))

annotations = []
labfont = dict(family=FONT, size=18, color="black")
for yt_x, ext_x, xl_x in [(19, 647, 331), (706, 1335, 1018)]:
    annotations.append(dict(x=px(yt_x), y=py(217), xref="paper", yref="paper",
                            xanchor="center", yanchor="middle",
                            text="<i>F</i><sub><i>ν</i></sub>  (<i>MJy</i>/<i>sr</i>)",
                            textangle=-90, showarrow=False, font=labfont))
    annotations.append(dict(x=px(ext_x), y=py(217), xref="paper", yref="paper",
                            xanchor="center", yanchor="middle",
                            text="Extinction", textangle=-90, showarrow=False, font=labfont))
    annotations.append(dict(x=px(xl_x), y=py(460), xref="paper", yref="paper",
                            xanchor="center", yanchor="middle",
                            text="<i>λ</i> (<i>μm</i>)", showarrow=False, font=labfont))
for cap, cx in zip(CAPTIONS, [360, 1040]):
    annotations.append(dict(x=px(cx), y=py(491), xref="paper", yref="paper", xanchor="center",
                            yanchor="middle", text=cap, showarrow=False,
                            font=dict(family="Liberation Serif", size=26, color="black")))

fig.update_layout(width=W, height=H, margin=dict(l=0, r=0, t=0, b=0),
                  paper_bgcolor="white", plot_bgcolor="white",
                  font=dict(family=FONT, size=18, color="black"),
                  annotations=annotations, **layout_axes, **legends)

# remove the default page margin so the figure sits exactly in the 1355x516 window
POST = ("document.body.style.margin='0px';document.body.style.padding='0px';"
        "var gd=document.getElementById('{plot_id}');gd.style.overflow='hidden';"
        "var sc=gd.querySelector('.svg-container');if(sc)sc.style.display='block';"
        "document.documentElement.style.overflow='hidden';window.scrollTo(0,0);")
fig.write_html("out.html", config={"displayModeBar": False, "staticPlot": True},
               post_script=POST)
